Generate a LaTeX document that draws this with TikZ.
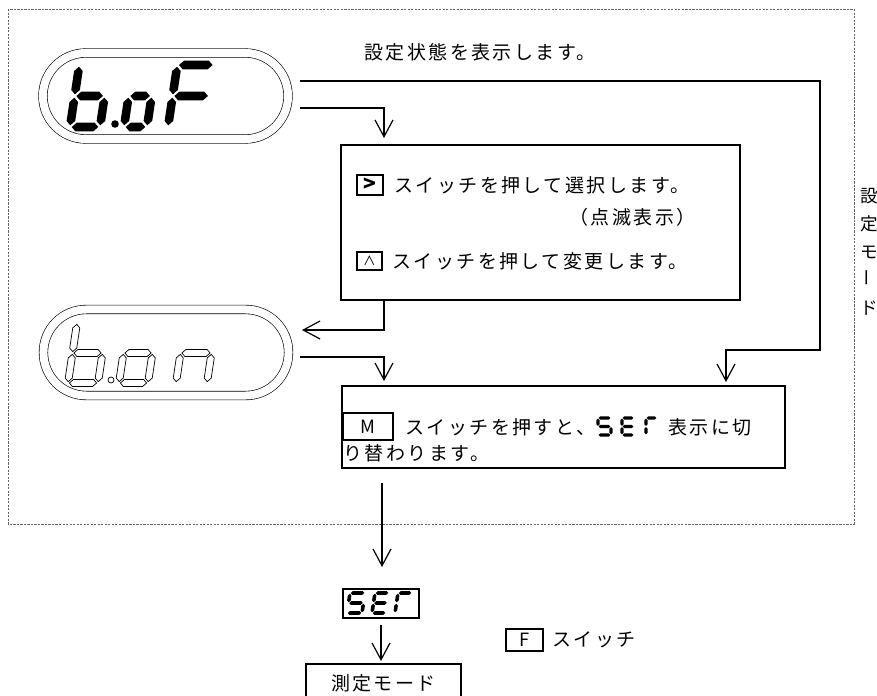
\documentclass[tikz,border=0pt]{standalone}
\usepackage{fontspec}
\newfontfamily\jp[LetterSpace=13]{Noto Sans CJK JP}
\newfontfamily\jpn{Noto Sans CJK JP}
\usetikzlibrary{arrows.meta}

% seven segment glyphs: width, height, half thickness
\newcommand\seggap{(0.4*\segt)}
\newcommand\hseg[3]{\path[seg] ({#1+\seggap},{#3}) -- ({#1+\seggap+\segt},{#3-\segt}) -- ({#2-\seggap-\segt},{#3-\segt}) -- ({#2-\seggap},{#3}) -- ({#2-\seggap-\segt},{#3+\segt}) -- ({#1+\seggap+\segt},{#3+\segt}) -- cycle;}
\newcommand\vseg[3]{\path[seg] ({#1},{#2+\seggap}) -- ({#1+\segt},{#2+\seggap+\segt}) -- ({#1+\segt},{#3-\seggap-\segt}) -- ({#1},{#3-\seggap}) -- ({#1-\segt},{#3-\seggap-\segt}) -- ({#1-\segt},{#2+\seggap+\segt}) -- cycle;}
\newcommand\sega{\hseg{0}{\segw}{-\segh}}
\newcommand\segb{\vseg{\segw}{-\segh}{-\segh/2}}
\newcommand\segc{\vseg{\segw}{-\segh/2}{0}}
\newcommand\segd{\hseg{0}{\segw}{0}}
\newcommand\sege{\vseg{0}{-\segh/2}{0}}
\newcommand\segf{\vseg{0}{-\segh}{-\segh/2}}
\newcommand\segg{\hseg{0}{\segw}{-\segh/2}}
\newcommand\sevenseg[5][]{%
  \begin{scope}[#1]
    \def\segw{#2}\def\segh{#3}\def\segt{#4}%
    \foreach \s in {#5}{\csname seg\s\endcsname}%
  \end{scope}}

\begin{document}
\begin{tikzpicture}[x=0.025cm,y=-0.025cm,
  flow/.style={-{Straight Barb[length=0.42cm,width=0.45cm]},line width=0.85pt},
  panel/.style={draw,line width=1.4pt,inner sep=0pt},
  key/.style={draw,line width=1.3pt,inner sep=0pt,font=\jpn\fontsize{13}{15}\selectfont},
  txt/.style={inner sep=0pt,anchor=west,font=\jp\fontsize{13.5}{16}\selectfont},
  disp/.style={draw,double,double distance=0.2cm,line width=0.45pt,minimum width=6.125cm,minimum height=2.15cm,rounded corners=1.07cm},
  frame/.style={draw=black!60,dash pattern=on 1.6pt off 0.9pt,line width=0.6pt},
  seg/.style={fill=black}]
\useasboundingbox (0,0) rectangle (877,696);
\draw[frame] (8,9) rectangle (854,524);

% displays
\node[disp] (boF) at (165.5,96) {};
\node[disp] (boN) at (166,352.5) {};
\begin{scope}[seg/.style={fill=black}]
\sevenseg[shift={(70,127)},xslant=0.15]{30}{62}{4.3}{f,e,d,c,g}
\sevenseg[shift={(124,127)},xslant=0.15]{23}{62}{4.3}{g,c,d,e}
\sevenseg[shift={(168,127)},xslant=0.15]{37}{62}{4.3}{a,f,g,e}
\fill (115,124) circle (3.8);
\end{scope}
\begin{scope}[seg/.style={draw,fill=white,line width=0.5pt}]
\sevenseg[shift={(68,383)},xslant=0.15]{30}{60}{3.5}{f,e,d,c,g}
\sevenseg[shift={(119,383)},xslant=0.15]{29}{60}{3.5}{g,c,d,e}
\sevenseg[shift={(176,383)},xslant=0.15]{31}{60}{3.5}{g,c,e}
\draw[line width=0.5pt] (111,380) circle (3);
\end{scope}

\node[txt] (msg) at (364,52) {設定状態を表示します。};

% select / change
\node[panel,minimum width=9.975cm,minimum height=3.875cm] (sel) at (540.5,222.5) {};
\node[key,minimum width=0.65cm,minimum height=0.5cm,font=\jpn\bfseries\fontsize{15}{15}\selectfont] (kR) at (370,185) {>};
\node[txt] (tR) at (394,185) {スイッチを押して選択します。};
\node[txt] (tB) at (569,217) {（点滅表示）};
\node[key,minimum width=0.625cm,minimum height=0.45cm,font=\jpn\fontsize{9}{9}\selectfont] (kU) at (369.5,261) {∧};
\node[txt] (tU) at (392,261) {スイッチを押して変更します。};

% switch to SET
\node[panel,minimum width=11.075cm,minimum height=2.05cm] (swt) at (563.5,427) {};
\node[key,minimum width=1.25cm,minimum height=0.675cm] (kM) at (368,426.5) {M};
\node[txt] (tM) at (405,427) {スイッチを押すと、};
\sevenseg[shift={(598,435)}]{13}{17}{1.7}{a,f,g,c,d}
\sevenseg[shift={(622,435)}]{12}{17}{1.7}{a,f,g,e,d}
\sevenseg[shift={(646,435)}]{11}{17}{1.7}{a,f,e}
\node[txt] (tD) at (668,427) {表示に切};
\node[txt] (tW) at (343,453) {り替わります。};

% SET and measuring mode
\node[panel,minimum width=1.9cm,minimum height=0.725cm] (set) at (381,603.5) {};
\sevenseg[shift={(347,613)},xslant=0.15]{15}{20}{1.8}{a,f,g,c,d}
\sevenseg[shift={(372,613)},xslant=0.15]{14}{20}{1.8}{a,f,g,e,d}
\sevenseg[shift={(395,613)},xslant=0.15]{14}{20}{1.8}{a,f,e}
\node[panel,minimum width=3.875cm,minimum height=0.95cm,font=\jp\fontsize{13.5}{16}\selectfont] (meas) at (383.5,683) {測定モード};
\node[key,minimum width=0.925cm,minimum height=0.55cm] (kF) at (524.5,640) {F};
\node[txt] (tF) at (552,640) {スイッチ};

\node[align=center,inner sep=0pt,font=\jpn\fontsize{12.5}{19.9}\selectfont] (mode) at (869.5,252) {設\\定\\モ\\\rotatebox{90}{ー}\\ド};

% connectors
\coordinate (o1) at (300,81);
\coordinate (r1) at (820,350);
\coordinate (cR) at (726,0);
\coordinate (cx) at (384,0);
\draw[flow,shorten >=0.075cm] (o1) -| (r1) -| (swt.north -| cR);
\coordinate (o2) at (300,108);
\draw[flow,shorten >=0.15cm] (o2) -| (sel.north -| cx);
\coordinate (i2) at (302,330);
\draw[flow] (sel.south -| cx) |- (i2);
\coordinate (o3) at (300,357);
\draw[flow,shorten >=0.1cm] (o3) -| (swt.north -| cx);
\coordinate (b3) at (382,483);
\draw[flow,shorten >=0.525cm] (b3) -- (b3 |- set.north);
\draw[flow,shorten <=0.15cm,shorten >=0.05cm] (set.south) -- (set.south |- meas.north);
\end{tikzpicture}
\end{document}
